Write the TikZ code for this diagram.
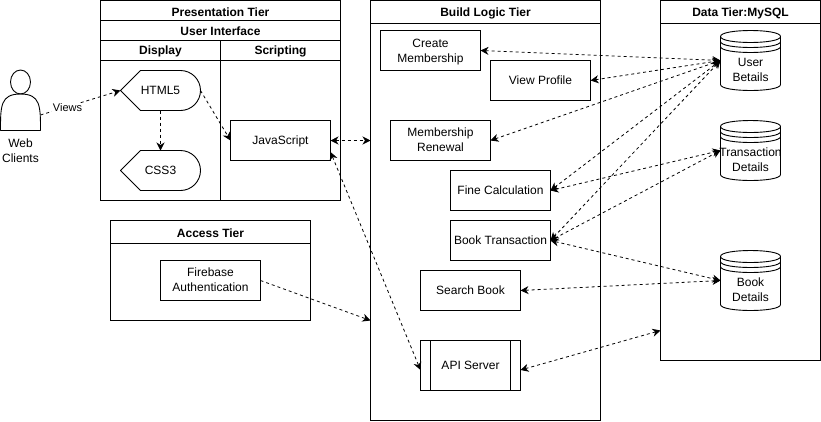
\documentclass[tikz,border=0pt]{standalone}
\usepackage{fontspec}
\setmainfont{Liberation Sans}
\usetikzlibrary{arrows.meta}
\newcommand{\dbshape}[2]{%
  \draw[shapeline] (#1,#2+6) .. controls (#1,#2-2) and (#1+60,#2-2) .. (#1+60,#2+6)
    -- (#1+60,#2+54) .. controls (#1+60,#2+62) and (#1,#2+62) .. (#1,#2+54) -- cycle;
  \draw[shapeline] (#1,#2+6) .. controls (#1,#2+14) and (#1+60,#2+14) .. (#1+60,#2+6);
  \draw[shapeline] (#1,#2+11) .. controls (#1,#2+19) and (#1+60,#2+19) .. (#1+60,#2+11);
  \draw[shapeline] (#1,#2+16) .. controls (#1,#2+24) and (#1+60,#2+24) .. (#1+60,#2+16);
}
\begin{document}
\begin{tikzpicture}[x=1pt,y=-1pt,
  every node/.style={font=\fontsize{12}{15}\selectfont,align=center,inner sep=0pt,outer sep=0pt},
  shapeline/.style={draw=black,line width=0.9pt,line join=round},
  boxnode/.style={draw=black,line width=1pt,minimum width=#1,minimum height=40pt},
  boxnode/.default=100pt,
  tiertitle/.style={font=\fontsize{12}{15}\selectfont\bfseries},
  tierline/.style={draw=black,line width=1pt},
  anchorbox/.style={minimum width=#1,minimum height=60pt},
  dashedge/.style={draw=black,line width=0.8pt,dash pattern=on 3pt off 3pt},
  mytip/.tip={Stealth[length=8pt,width=8pt,inset=2.5pt]},
  oneway/.style={dashedge,-{mytip}},
  twoway/.style={dashedge,{mytip}-{mytip}}]
\useasboundingbox (0,0) rectangle (821,421);

% Presentation tier
\draw[tierline] (100.5,0.5) rectangle (340.5,200.5);
\draw[tierline] (100.5,20.5) -- (340.5,20.5);
\draw[tierline] (100.5,40.5) -- (340.5,40.5);
\draw[tierline] (100.5,60.5) -- (340.5,60.5);
\draw[tierline] (220.5,40.5) -- (220.5,200.5);
\node[tiertitle] (ptitle) at (220.5,12) {Presentation Tier};
\node[tiertitle] (ui) at (220.5,31) {User Interface};
\node[tiertitle] (disp) at (160.5,51) {Display};
\node[tiertitle] (scr) at (280.5,51) {Scripting};

% Access tier
\draw[tierline] (110.5,220.5) rectangle (310.5,320.5);
\draw[tierline] (110.5,243.5) -- (310.5,243.5);
\node[tiertitle] (atitle) at (210.5,233) {Access Tier};

% Build logic tier
\draw[tierline] (370.5,0.5) rectangle (600.5,420.5);
\draw[tierline] (370.5,23.5) -- (600.5,23.5);
\node[tiertitle] (btitle) at (485.5,13) {Build Logic Tier};

% Data tier
\draw[tierline] (660.5,0.5) rectangle (820.5,360.5);
\draw[tierline] (660.5,23.5) -- (820.5,23.5);
\node[tiertitle] (dtitle) at (740.5,13) {Data Tier:MySQL};

% Person
\draw[shapeline] (20.5,82) ellipse [x radius=10,y radius=12];
\draw[shapeline] (0.5,130.5) .. controls (0.5,106) and (0.5,94) .. (20.5,94)
  .. controls (40.5,94) and (40.5,106) .. (40.5,130.5) -- cycle;
\node[minimum width=40pt,minimum height=60pt] (client) at (20.5,100.5) {};
\node (clientlabel) at (20.5,151) {Web\\Clients};

% Display shapes
\draw[shapeline] (120.5,90.5) -- (140.5,70.5) -- (180.5,70.5)
  .. controls (191.5,70.5) and (200.5,79.5) .. (200.5,90.5)
  .. controls (200.5,101.5) and (191.5,110.5) .. (180.5,110.5) -- (140.5,110.5) -- cycle;
\node[minimum width=80pt,minimum height=40pt] (html) at (160.5,90.5) {HTML5};
\draw[shapeline] (120.5,170.5) -- (140.5,150.5) -- (180.5,150.5)
  .. controls (191.5,150.5) and (200.5,159.5) .. (200.5,170.5)
  .. controls (200.5,181.5) and (191.5,190.5) .. (180.5,190.5) -- (140.5,190.5) -- cycle;
\node[minimum width=80pt,minimum height=40pt] (css) at (160.5,170.5) {CSS3};

% Boxes
\node[boxnode,label={[yshift=-0.7pt]center:JavaScript}] (js) at (280.5,140.5) {};
\node[boxnode,label={[yshift=0.8pt]center:{Firebase\\Authentication}}] (fire) at (210.5,280.5) {};
\node[boxnode,label={[yshift=-2pt]center:{Create\\Membership}}] (create) at (430.5,50.5) {};
\node[boxnode] (view) at (540.5,80.5) {View Profile};
\node[boxnode,label={[yshift=0.8pt]center:{Membership\\Renewal}}] (renew) at (440.5,140.5) {};
\node[boxnode] (fine) at (500.5,190.5) {Fine Calculation};
\node[boxnode] (trans) at (500.5,240.5) {Book Transaction};
\node[boxnode] (search) at (470.5,290.5) {Search Book};
\node[boxnode,minimum height=50pt] (api) at (470.5,365.5) {API Server};
\draw[tierline] (430.5,340.5) -- (430.5,390.5);
\draw[tierline] (510.5,340.5) -- (510.5,390.5);

% Databases
\dbshape{720.5}{30.5}
\dbshape{720.5}{120.5}
\dbshape{720.5}{250.5}
\node[anchorbox=60pt] (user) at (750.5,60.5) {};
\node[anchorbox=60pt] (tdb) at (750.5,150.5) {};
\node[anchorbox=60pt] (bdb) at (750.5,280.5) {};
\node (userlabel) at (750.5,70) {User\\Betails};
\node (tdblabel) at (750.5,160) {Transaction\\Details};
\node (bdblabel) at (750.5,290) {Book\\Details};

% Free connector ends
\coordinate (buildjs) at (370.5,140.5);
\coordinate (buildfire) at (370.5,320.5);
\coordinate (jslow) at (330.5,152);
\coordinate (dataapi) at (660.5,330.5);
\coordinate (clientout) at (40.5,115);
\coordinate (apiwest) at (420.5,370);
\coordinate (apieast) at (520.5,370);

% Connectors
\draw[oneway] (clientout) -- (html.west);
\node[fill=white,font=\fontsize{11}{13}\selectfont,inner sep=1pt] (views) at (67.5,108) {Views};
\draw[oneway] (html.east) -- (js.west);
\draw[oneway] (html.south) -- (css.north);
\draw[twoway] (js.east) -- (buildjs);
\draw[twoway] (jslow) -- (apiwest);
\draw[oneway] (fire.east) -- (buildfire);
\draw[twoway] (create.east) -- (user.west);
\draw[twoway] (view.east) -- (user.west);
\draw[twoway] (renew.east) -- (user.west);
\draw[twoway] (fine.east) -- (user.west);
\draw[twoway] (trans.east) -- (user.west);
\draw[twoway] (fine.east) -- (tdb.west);
\draw[twoway] (trans.east) -- (tdb.west);
\draw[twoway] (trans.east) -- (bdb.west);
\draw[twoway] (search.east) -- (bdb.west);
\draw[twoway] (apieast) -- (dataapi);
\end{tikzpicture}
\end{document}
